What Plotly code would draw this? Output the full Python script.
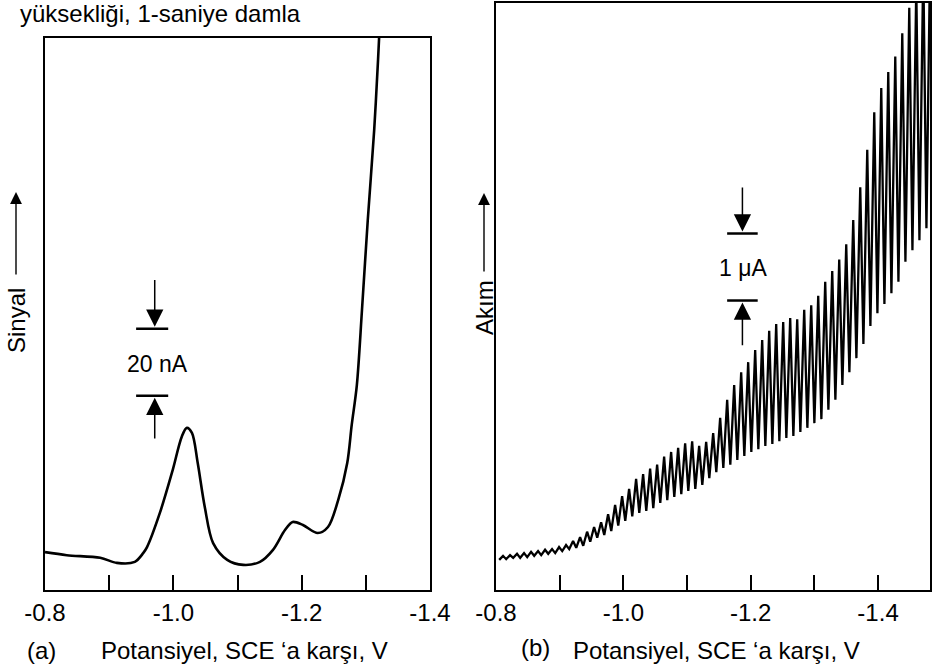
import plotly.graph_objects as go

# ---------------- (a) differential pulse polarogram ----------------
pot_a = [-0.800, -0.834, -0.886, -0.912, -0.940, -0.953, -0.959, -0.979, -0.999,
         -1.013, -1.021, -1.029, -1.038, -1.049, -1.062, -1.084, -1.109, -1.135,
         -1.155, -1.174, -1.186, -1.202, -1.225, -1.241, -1.257, -1.271, -1.278,
         -1.286, -1.294, -1.303, -1.313, -1.319, -1.322]
signal_na = [11.3, 10.4, 9.6, 8.1, 8.4, 11.0, 12.8, 23.0, 35.8,
             45.7, 48.4, 46.9, 37.9, 24.8, 14.0, 9.0, 7.5, 8.4,
             11.9, 17.9, 20.3, 19.4, 17.0, 18.8, 26.9, 37.9, 49.3,
             61.2, 83.6, 110.4, 137.3, 158.2, 170.1]

# ---------------- (b) classical DC polarogram, one tooth per drop ----------------
drop_pot = [-0.805, -0.816, -0.827, -0.838, -0.849, -0.860, -0.871, -0.882, -0.893, -0.904,
            -0.915, -0.926, -0.937, -0.948, -0.959, -0.970, -0.981, -0.992, -1.003, -1.014,
            -1.025, -1.036, -1.047, -1.058, -1.069, -1.080, -1.091, -1.102, -1.113, -1.124,
            -1.135, -1.146, -1.157, -1.168, -1.179, -1.190, -1.201, -1.212, -1.223, -1.234,
            -1.245, -1.256, -1.267, -1.278, -1.289, -1.300, -1.311, -1.322, -1.333, -1.344,
            -1.355, -1.366, -1.377, -1.388, -1.399, -1.410, -1.421, -1.432, -1.443, -1.454,
            -1.465, -1.476]
drop_min_ua = [0.45, 0.46, 0.48, 0.48, 0.49, 0.51, 0.52, 0.54, 0.55, 0.58,
               0.61, 0.63, 0.66, 0.72, 0.78, 0.82, 0.88, 0.96, 1.03, 1.10,
               1.15, 1.18, 1.22, 1.30, 1.34, 1.39, 1.43, 1.48, 1.51, 1.57,
               1.67, 1.76, 1.82, 1.87, 1.94, 2.00, 2.06, 2.10, 2.15, 2.18,
               2.22, 2.27, 2.30, 2.36, 2.42, 2.49, 2.55, 2.69, 2.84, 3.06,
               3.25, 3.46, 3.67, 3.94, 4.13, 4.27, 4.43, 4.60, 4.90, 5.07,
               5.22, 5.40]
drop_max_ua = [0.51, 0.52, 0.54, 0.55, 0.57, 0.58, 0.60, 0.61, 0.64, 0.67,
               0.73, 0.79, 0.87, 0.94, 1.01, 1.13, 1.27, 1.40, 1.51, 1.66,
               1.73, 1.81, 1.87, 1.99, 2.06, 2.12, 2.19, 2.22, 2.15, 2.21,
               2.34, 2.57, 2.84, 3.06, 3.25, 3.40, 3.58, 3.73, 3.87, 3.97,
               4.00, 4.06, 4.04, 4.18, 4.25, 4.39, 4.60, 4.76, 4.93, 5.16,
               5.52, 6.01, 6.57, 7.13, 7.49, 7.73, 7.96, 8.31, 8.69, 9.03,
               9.33, 9.63]

x_ticks = [-0.8, -0.9, -1.0, -1.1, -1.2, -1.3, -1.4, -1.5]
x_tick_text = ["-0.8", "", "-1.0", "", "-1.2", "", "-1.4", ""]

FONT = "Arial, Liberation Sans, sans-serif"
W, H = 932, 670


def px(x):
    return x / W


def py(y):
    return 1 - y / H


# Build the recorder trace: during each drop the current climbs from its
# minimum to its maximum, then falls back as the drop detaches.
saw_x, saw_y = [], []
n = len(drop_pot)
for i in range(n):
    step = (drop_pot[i + 1] - drop_pot[i]) if i < n - 1 else (drop_pot[i] - drop_pot[i - 1])
    saw_x += [drop_pot[i], drop_pot[i] + 0.55 * step]
    saw_y += [drop_min_ua[i], drop_max_ua[i]]

fig = go.Figure()
fig.add_trace(go.Scatter(x=pot_a, y=signal_na, mode="lines",
                         line=dict(color="black", width=2.6, shape="spline", smoothing=0.9),
                         xaxis="x", yaxis="y", hoverinfo="skip", showlegend=False))
fig.add_trace(go.Scatter(x=saw_x, y=saw_y, mode="lines",
                         line=dict(color="black", width=2.3),
                         xaxis="x2", yaxis="y2", hoverinfo="skip", showlegend=False))

axis_common = dict(showline=True, mirror=True, linecolor="black", linewidth=2,
                   showgrid=False, zeroline=False, automargin=False)
xaxis_common = dict(axis_common, tickmode="array", tickvals=x_ticks, ticktext=x_tick_text,
                    ticks="inside", ticklen=15, tickwidth=2, tickcolor="black",
                    tickfont=dict(family=FONT, size=24, color="black"))
yaxis_common = dict(axis_common, showticklabels=False, ticks="")

fig.update_layout(
    width=W, height=H,
    margin=dict(l=0, r=0, t=0, b=0, pad=0, autoexpand=False),
    paper_bgcolor="white", plot_bgcolor="white",
    xaxis=dict(xaxis_common, domain=[px(45), px(430)], range=[-0.8, -1.4], anchor="y"),
    yaxis=dict(yaxis_common, domain=[py(590), py(38)], range=[0, 164.8], anchor="x"),
    xaxis2=dict(xaxis_common, domain=[px(496), px(930)], range=[-0.8, -1.4816], anchor="y2"),
    yaxis2=dict(yaxis_common, domain=[py(590), py(3)], range=[0, 8.76], anchor="x2"),
)

# Scale bars
bar_a = [58.0, 78.0]
bar_b = [4.32, 5.32]
shapes = []
for yv in bar_a:
    shapes.append(dict(type="line", xref="x", yref="y", x0=-0.942, x1=-0.992, y0=yv, y1=yv,
                       line=dict(color="black", width=2.5)))
for yv in bar_b:
    shapes.append(dict(type="line", xref="x2", yref="y2", x0=-1.163, x1=-1.211, y0=yv, y1=yv,
                       line=dict(color="black", width=2.5)))
fig.update_layout(shapes=shapes)

ann = []
arrow_style = dict(showarrow=True, arrowhead=2, arrowsize=2.3, arrowwidth=1.5,
                   arrowcolor="black", text="")
# (a) scale arrows
ann.append(dict(arrow_style, xref="x", yref="y", axref="x", ayref="y",
                x=-0.971, y=bar_a[1] + 0.6, ax=-0.971, ay=93.0))
ann.append(dict(arrow_style, xref="x", yref="y", axref="x", ayref="y",
                x=-0.971, y=bar_a[0] - 0.6, ax=-0.971, ay=44.8))
ann.append(dict(xref="x", yref="y", x=-0.975, y=(bar_a[0] + bar_a[1]) / 2 - 0.5,
                text="20 nA", showarrow=False,
                font=dict(family=FONT, size=23, color="black")))
# (b) scale arrows
ann.append(dict(arrow_style, xref="x2", yref="y2", axref="x2", ayref="y2",
                x=-1.187, y=bar_b[1] + 0.03, ax=-1.187, ay=6.03))
ann.append(dict(arrow_style, xref="x2", yref="y2", axref="x2", ayref="y2",
                x=-1.187, y=bar_b[0] - 0.03, ax=-1.187, ay=3.63))
ann.append(dict(xref="x2", yref="y2", x=-1.188, y=(bar_b[0] + bar_b[1]) / 2 - 0.02,
                text="1 μA", showarrow=False,
                font=dict(family=FONT, size=23, color="black")))

# Axis captions
txt = dict(family=FONT, size=24, color="black")
ann.append(dict(xref="paper", yref="paper", x=px(18), y=py(14), xanchor="left", yanchor="middle",
                text="yüksekliği, 1-saniye damla", showarrow=False, font=txt))
ann.append(dict(xref="paper", yref="paper", x=px(25), y=py(650), xanchor="left", yanchor="middle",
                text="(a)", showarrow=False, font=txt))
ann.append(dict(xref="paper", yref="paper", x=px(99), y=py(650), xanchor="left", yanchor="middle",
                text="Potansiyel, SCE ‘a karşı, V", showarrow=False, font=txt))
ann.append(dict(xref="paper", yref="paper", x=px(519), y=py(647), xanchor="left", yanchor="middle",
                text="(b)", showarrow=False, font=txt))
ann.append(dict(xref="paper", yref="paper", x=px(571), y=py(650), xanchor="left", yanchor="middle",
                text="Potansiyel, SCE ‘a karşı, V", showarrow=False, font=txt))
ann.append(dict(xref="paper", yref="paper", x=px(16), y=py(321), textangle=-90,
                xanchor="center", yanchor="middle",
                text="Sinyal", showarrow=False, font=txt))
ann.append(dict(arrow_style, xref="paper", yref="paper", x=px(16), y=py(192),
                ax=0, ay=84, arrowsize=1.7, arrowwidth=1.4))
ann.append(dict(xref="paper", yref="paper", x=px(484), y=py(307), textangle=-90,
                xanchor="center", yanchor="middle",
                text="Akım", showarrow=False, font=txt))
ann.append(dict(arrow_style, xref="paper", yref="paper", x=px(484), y=py(193),
                ax=0, ay=80, arrowsize=1.7, arrowwidth=1.4))
fig.update_layout(annotations=ann)

fig.write_html("out.html")
